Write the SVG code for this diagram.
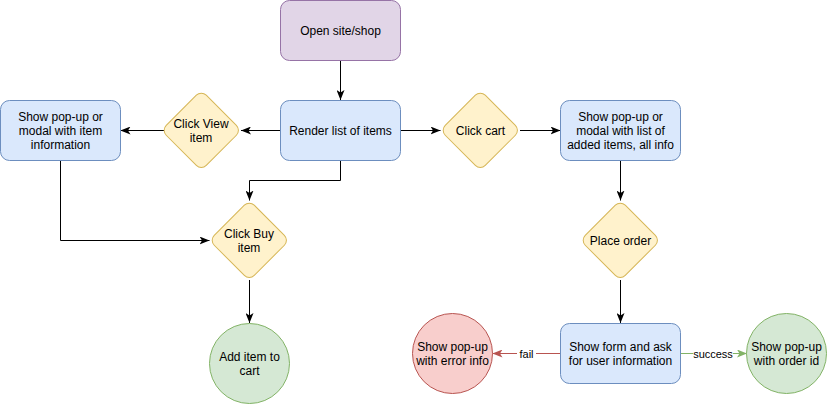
<svg xmlns="http://www.w3.org/2000/svg" width="827" height="404" viewBox="0 0 827 404">
<defs>
<style>
text{font-family:"Liberation Sans",Arial,Helvetica,sans-serif;font-size:12px;fill:#000;text-anchor:middle}
.lbl{font-size:11px}
.purple{fill:#e1d5e7;stroke:#9673a6}
.blue{fill:#dae8fc;stroke:#6c8ebf}
.yellow{fill:#fff2cc;stroke:#d6b656}
.green{fill:#d5e8d4;stroke:#82b366}
.red{fill:#f8cecc;stroke:#b85450}
.edge{fill:none;stroke:#000;stroke-width:1}
</style>
<marker id="ah" viewBox="0 0 10 8" refX="10" refY="4" markerWidth="10" markerHeight="8" markerUnits="userSpaceOnUse" orient="auto">
<path d="M0,0 L10,4 L0,8 L2.5,4 Z" fill="#000"/>
</marker>
<marker id="ahr" viewBox="0 0 10 8" refX="10" refY="4" markerWidth="10" markerHeight="8" markerUnits="userSpaceOnUse" orient="auto">
<path d="M0,0 L10,4 L0,8 L2.5,4 Z" fill="#b85450"/>
</marker>
<marker id="ahg" viewBox="0 0 10 8" refX="10" refY="4" markerWidth="10" markerHeight="8" markerUnits="userSpaceOnUse" orient="auto">
<path d="M0,0 L10,4 L0,8 L2.5,4 Z" fill="#82b366"/>
</marker>
</defs>
<g id="connectors">
<path class="edge" d="M340.5,60.5 L340.5,100" marker-end="url(#ah)"/>
<path class="edge" d="M280.5,130.5 L241,130.5" marker-end="url(#ah)"/>
<path class="edge" d="M164,130.5 L120.5,130.5" marker-end="url(#ah)"/>
<path class="edge" d="M400.5,130.5 L440.5,130.5" marker-end="url(#ah)"/>
<path class="edge" d="M520,130.5 L560.5,130.5" marker-end="url(#ah)"/>
<path class="edge" d="M340.5,160.5 L340.5,180.5 L249.5,180.5 L249.5,200.5" marker-end="url(#ah)"/>
<path class="edge" d="M60.5,160.5 L60.5,240.5 L209.5,240.5" marker-end="url(#ah)"/>
<path class="edge" d="M249.5,280 L249.5,323" marker-end="url(#ah)"/>
<path class="edge" d="M620.5,160.5 L620.5,200.5" marker-end="url(#ah)"/>
<path class="edge" d="M620.5,280 L620.5,323" marker-end="url(#ah)"/>
<path d="M560.5,353.5 L492.5,353.5" fill="none" stroke="#b85450" marker-end="url(#ahr)"/>
<rect x="517" y="346" width="19" height="14" fill="#fff"/>
<text class="lbl" x="526.5" y="357.5">fail</text>
<path d="M680.5,353.5 L747,353.5" fill="none" stroke="#82b366" marker-end="url(#ahg)"/>
<rect x="693" y="346" width="40" height="14" fill="#fff"/>
<text class="lbl" x="713" y="357.5">success</text>
</g>
<g id="open-site">
<rect class="purple" x="280.5" y="0.5" width="120" height="60" rx="9"/>
<text x="340.5" y="34.5">Open site/shop</text>
</g>
<g id="render-list">
<rect class="blue" x="280.5" y="100.5" width="120" height="60" rx="9"/>
<text x="340.5" y="134.8">Render list of items</text>
</g>
<g id="show-item-popup">
<rect class="blue" x="0.5" y="100.5" width="120" height="60" rx="9"/>
<text x="60.5" y="120.8">Show pop-up or</text>
<text x="60.5" y="134.8">modal with item</text>
<text x="60.5" y="148.8">information</text>
</g>
<g id="click-view">
<rect class="yellow" x="173" y="102" width="56.6" height="56.6" rx="7" transform="rotate(45 201.3 130.3)"/>
<text x="201" y="128">Click View</text>
<text x="201" y="142">item</text>
</g>
<g id="click-cart">
<rect class="yellow" x="452" y="102" width="56.6" height="56.6" rx="7" transform="rotate(45 480.3 130.3)"/>
<text x="480.5" y="134.8">Click cart</text>
</g>
<g id="show-cart-popup">
<rect class="blue" x="560.5" y="100.5" width="120" height="60" rx="9"/>
<text x="620.5" y="120.8">Show pop-up or</text>
<text x="620.5" y="134.8">modal with list of</text>
<text x="620.5" y="148.8">added items, all info</text>
</g>
<g id="click-buy">
<rect class="yellow" x="221" y="212" width="56.6" height="56.6" rx="7" transform="rotate(45 249.3 240.3)"/>
<text x="249" y="238">Click Buy</text>
<text x="249" y="252">item</text>
</g>
<g id="add-to-cart">
<circle class="green" cx="249.5" cy="363.5" r="40"/>
<text x="249.5" y="361">Add item to</text>
<text x="249.5" y="375">cart</text>
</g>
<g id="place-order">
<rect class="yellow" x="592" y="212" width="56.6" height="56.6" rx="7" transform="rotate(45 620.3 240.3)"/>
<text x="620.5" y="244.8">Place order</text>
</g>
<g id="show-form">
<rect class="blue" x="560.5" y="323.5" width="120" height="60" rx="9"/>
<text x="620.5" y="351">Show form and ask</text>
<text x="620.5" y="365">for user information</text>
</g>
<g id="error-popup">
<circle class="red" cx="452.5" cy="353.5" r="40"/>
<text x="452.5" y="351">Show pop-up</text>
<text x="452.5" y="365">with error info</text>
</g>
<g id="success-popup">
<circle class="green" cx="786.5" cy="353.5" r="40"/>
<text x="786.5" y="351">Show pop-up</text>
<text x="786.5" y="365">with order id</text>
</g>
</svg>
